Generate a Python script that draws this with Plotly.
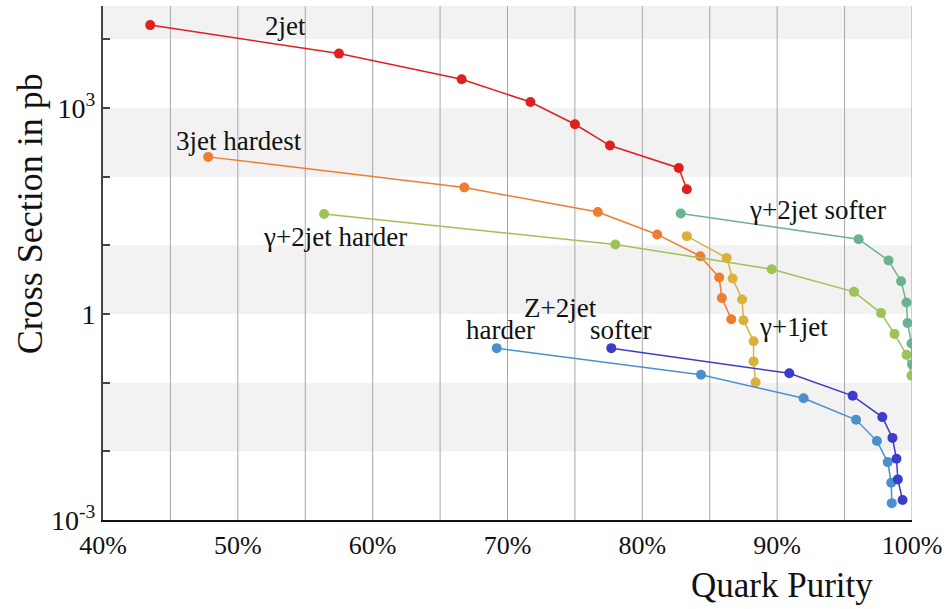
import plotly.graph_objects as go

# ---- data (purity as fraction, cross section in pb) ----
jet2_x = [0.435, 0.575, 0.666, 0.717, 0.750, 0.776, 0.827, 0.833]
jet2_y = [16100, 6190, 2620, 1220, 579, 284, 134, 65.6]

jet3h_x = [0.478, 0.668, 0.767, 0.811, 0.843, 0.857, 0.859, 0.866]
jet3h_y = [194, 69.4, 30.6, 14.4, 6.94, 3.40, 1.71, 0.84]

g2h_x = [0.564, 0.780, 0.896, 0.957, 0.977, 0.987, 0.996, 0.9996]
g2h_y = [28.6, 10.3, 4.49, 2.10, 1.03, 0.513, 0.254, 0.126]

g2s_x = [0.8285, 0.9604, 0.9826, 0.9919, 0.9959, 0.9967, 0.9996, 1.000]
g2s_y = [29.0, 12.3, 6.01, 3.00, 1.47, 0.741, 0.372, 0.186]

g1_x = [0.833, 0.8625, 0.867, 0.874, 0.875, 0.8825, 0.8825, 0.884]
g1_y = [13.6, 6.56, 3.29, 1.63, 0.812, 0.402, 0.204, 0.101]

z2h_x = [0.692, 0.8435, 0.9196, 0.9585, 0.974, 0.982, 0.9846, 0.985]
z2h_y = [0.318, 0.130, 0.0594, 0.0288, 0.0141, 0.00697, 0.00348, 0.00176]

z2s_x = [0.777, 0.909, 0.956, 0.978, 0.9855, 0.9885, 0.9895, 0.993]
z2s_y = [0.318, 0.137, 0.0643, 0.0315, 0.0157, 0.00778, 0.0039, 0.00195]

series = [
    ("2jet", jet2_x, jet2_y, "#e0201f"),
    ("3jet hardest", jet3h_x, jet3h_y, "#ee7d30"),
    ("γ+2jet harder", g2h_x, g2h_y, "#9dc25a"),
    ("γ+2jet softer", g2s_x, g2s_y, "#6bb38e"),
    ("γ+1jet", g1_x, g1_y, "#d8b23d"),
    ("Z+2jet harder", z2h_x, z2h_y, "#4b8fcd"),
    ("Z+2jet softer", z2s_x, z2s_y, "#3c3ccc"),
]

# labels: (text, x, log10(y))
labels = [
    ("2jet", 0.535, 4.20),
    ("3jet hardest", 0.501, 2.515),
    ("γ+2jet harder", 0.572, 1.118),
    ("γ+2jet softer", 0.930, 1.511),
    ("Z+2jet", 0.739, 0.085),
    ("harder", 0.695, -0.236),
    ("softer", 0.784, -0.236),
    ("γ+1jet", 0.912, -0.192),
]

x_ticks = [0.4, 0.5, 0.6, 0.7, 0.8, 0.9, 1.0]
y_label_vals = [1e-3, 1, 1e3]
y_label_text = ["10<sup>-3</sup>", "1", "10<sup>3</sup>"]
y_minor_decades = [-2, -1, 1, 2, 4]
band_decades = [-2, 0, 2, 4]

FONT = "Liberation Serif"

fig = go.Figure()

for name, xs, ys, col in series:
    fig.add_trace(go.Scatter(
        x=xs, y=ys, mode="lines+markers", name=name,
        line=dict(color=col, width=1.5),
        marker=dict(color=col, size=10),
        showlegend=False,
    ))

# alternating bands
shapes = []
for lo in band_decades:
    shapes.append(dict(type="rect", xref="paper", yref="y", x0=0, x1=1,
                       y0=10 ** lo, y1=10 ** (lo + 1), fillcolor="#f2f2f2",
                       line=dict(width=0), layer="below"))
# vertical grid lines every 5%
for i in range(1, 13):
    shapes.append(dict(type="line", xref="x", yref="paper", x0=0.4 + 0.05 * i,
                       x1=0.4 + 0.05 * i, y0=0, y1=1,
                       line=dict(color="#a6a6a6", width=1), layer="below"))

annotations = []
for t, x, ly in labels:
    annotations.append(dict(text=t, x=x, y=ly, xref="x", yref="y",
                            showarrow=False, font=dict(size=27, color="#111",
                                                       family=FONT)))
annotations.append(dict(text="Quark Purity", xref="paper", yref="paper",
                        x=0.839, y=-0.127, xanchor="center", yanchor="middle",
                        showarrow=False, font=dict(size=35, color="#111", family=FONT)))
annotations.append(dict(text="Cross Section in pb", xref="paper", yref="paper",
                        x=-0.09, y=0.595, xanchor="center", yanchor="middle",
                        textangle=-90, showarrow=False,
                        font=dict(size=36, color="#111", family=FONT)))

fig.update_layout(
    width=948, height=609,
    margin=dict(l=103, r=33, t=6, b=89),
    paper_bgcolor="white", plot_bgcolor="white",
    font=dict(family=FONT, size=26, color="#111"),
    shapes=shapes, annotations=annotations,
    xaxis=dict(range=[0.4, 1.0], tickvals=x_ticks, tickformat=".0%",
               showgrid=False, zeroline=False, showline=True,
               linecolor="#111", linewidth=2, ticks="",
               ticklabelstandoff=1, tickfont=dict(size=26, family=FONT)),
    yaxis=dict(type="log", range=[-3, 4.485],
               tickvals=y_label_vals, ticktext=y_label_text,
               showgrid=False, zeroline=False, showline=True,
               linecolor="#444", linewidth=2, ticks="inside", ticklen=7,
               tickcolor="#444", tickwidth=1.5,
               minor=dict(tickmode="array",
                          tickvals=[10 ** d for d in y_minor_decades],
                          ticks="inside", ticklen=7, tickcolor="#444",
                          tickwidth=1.5, showgrid=False),
               tickfont=dict(size=28, family=FONT)),
)

fig.write_html("out.html")
